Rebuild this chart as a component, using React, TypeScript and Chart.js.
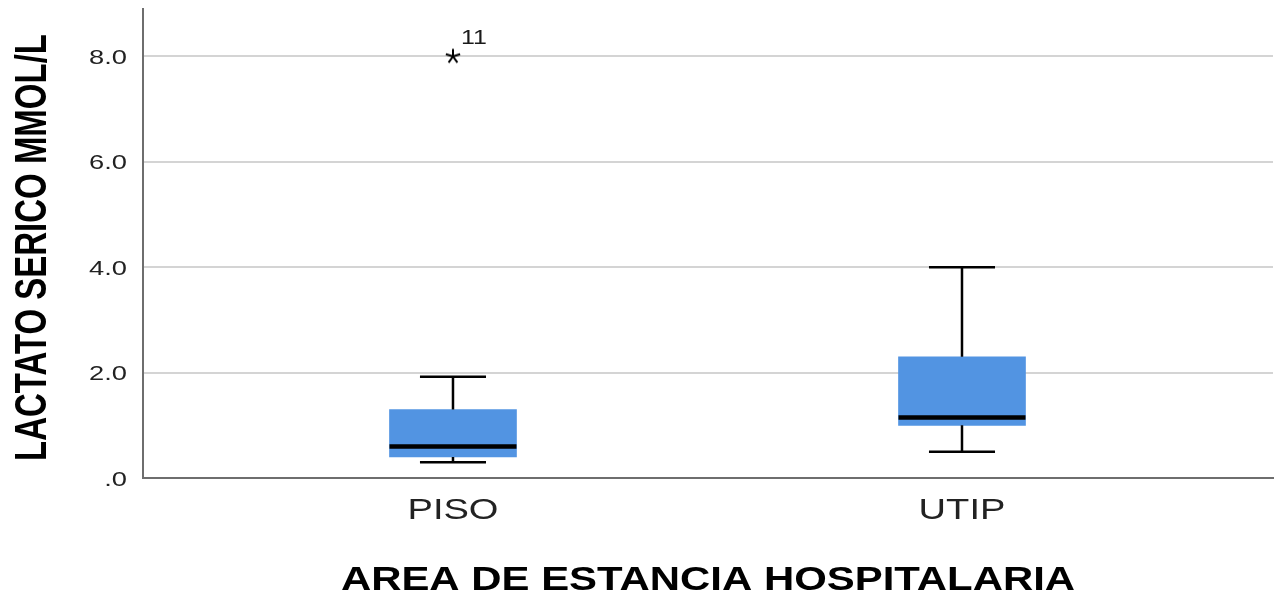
import React, { useEffect, useRef } from "react";
import { Chart, registerables } from "chart.js";

Chart.register(...registerables);

// Box-plot summary per hospital area (lactate, mmol/L)
const categories = ["PISO", "UTIP"];
const whiskerLow = [0.3, 0.5];
const quartile1 = [0.4, 1.0];
const medians = [0.6, 1.15];
const quartile3 = [1.3, 2.3];
const whiskerHigh = [1.92, 4.0];

// Extreme value flagged with its case number
const outlierCategory = [0];
const outlierValue = [8.0];
const outlierCase = ["11"];

// Y axis ticks
const yTickValues = [0, 2, 4, 6, 8];
const yTickLabels = [".0", "2.0", "4.0", "6.0", "8.0"];

const xTitle = "AREA DE ESTANCIA HOSPITALARIA";
const yTitle = "LACTATO SERICO MMOL/L";

const FONT = '"Liberation Sans", Arial, sans-serif';
const BOX_COLOR = "#5294e2";

function drawText(
  ctx: CanvasRenderingContext2D,
  text: string,
  x: number,
  y: number,
  o: { size: number; bold?: boolean; sx?: number; sy?: number; align?: CanvasTextAlign; rotate?: number; color?: string }
) {
  ctx.save();
  ctx.translate(x, y);
  if (o.rotate) ctx.rotate(o.rotate);
  ctx.scale(o.sx ?? 1, o.sy ?? 1);
  ctx.font = `${o.bold ? "bold " : ""}${o.size}px ${FONT}`;
  ctx.textAlign = o.align ?? "left";
  ctx.textBaseline = "alphabetic";
  ctx.fillStyle = o.color ?? "#1a1a1a";
  ctx.fillText(text, 0, 0);
  ctx.restore();
}

// Asterisk marker used for extreme values
function makeAsterisk(): HTMLCanvasElement {
  const c = document.createElement("canvas");
  c.width = 20;
  c.height = 20;
  const g = c.getContext("2d")!;
  g.strokeStyle = "#000";
  g.lineWidth = 2;
  g.lineCap = "butt";
  g.beginPath();
  for (let k = 0; k < 5; k++) {
    const a = -Math.PI / 2 + (k * 2 * Math.PI) / 5;
    g.moveTo(10, 10);
    g.lineTo(10 + Math.cos(a) * 7.5, 10 + Math.sin(a) * 7.5);
  }
  g.stroke();
  return c;
}

const boxDecor = {
  id: "boxDecor",
  afterDatasetsDraw(chart: any) {
    const { ctx, scales } = chart;
    const x = scales.x;
    const y = scales.y;
    const bars = chart.getDatasetMeta(0).data;
    ctx.save();
    ctx.strokeStyle = "#000";
    ctx.lineCap = "butt";
    categories.forEach((_, i) => {
      const cx = x.getPixelForValue(i);
      const w = bars[i].width;
      const cap = w * 0.52;
      // whiskers
      ctx.lineWidth = 2.5;
      ctx.beginPath();
      ctx.moveTo(cx, y.getPixelForValue(quartile3[i]));
      ctx.lineTo(cx, y.getPixelForValue(whiskerHigh[i]));
      ctx.moveTo(cx, y.getPixelForValue(quartile1[i]));
      ctx.lineTo(cx, y.getPixelForValue(whiskerLow[i]));
      ctx.stroke();
      ctx.beginPath();
      ctx.moveTo(cx - cap / 2, y.getPixelForValue(whiskerHigh[i]));
      ctx.lineTo(cx + cap / 2, y.getPixelForValue(whiskerHigh[i]));
      ctx.moveTo(cx - cap / 2, y.getPixelForValue(whiskerLow[i]));
      ctx.lineTo(cx + cap / 2, y.getPixelForValue(whiskerLow[i]));
      ctx.stroke();
      // median
      ctx.lineWidth = 4.5;
      ctx.beginPath();
      ctx.moveTo(cx - w / 2, y.getPixelForValue(medians[i]));
      ctx.lineTo(cx + w / 2, y.getPixelForValue(medians[i]));
      ctx.stroke();
    });
    ctx.restore();

    // case labels next to outliers
    const pts = chart.getDatasetMeta(1).data;
    pts.forEach((p: any, i: number) => {
      drawText(ctx, outlierCase[i], p.x + 8, p.y - 12, { size: 20, sx: 1.25 });
    });
  },
  afterDraw(chart: any) {
    const { ctx, scales, chartArea } = chart;
    const x = scales.x;
    const y = scales.y;
    // y tick labels
    yTickValues.forEach((v, i) => {
      const py = y.getPixelForValue(v);
      drawText(ctx, yTickLabels[i], chartArea.left - 16, py + 7.5, { size: 21, sx: 1.3, align: "right", color: "#222" });
    });
    // x tick labels
    categories.forEach((c, i) => {
      drawText(ctx, c, x.getPixelForValue(i), chartArea.bottom + 41, { size: 30, sx: 1.27, align: "center", color: "#222" });
    });
    // axis titles
    drawText(ctx, xTitle, (chartArea.left + chartArea.right) / 2, chartArea.bottom + 112, {
      size: 33,
      bold: true,
      sx: 1.27,
      align: "center",
      color: "#000",
    });
    drawText(ctx, yTitle, 46, (chartArea.top + chartArea.bottom) / 2 + 4, {
      size: 34,
      bold: true,
      sx: 0.97,
      sy: 1.3,
      align: "center",
      rotate: -Math.PI / 2,
      color: "#000",
    });
  },
};

export default function App() {
  const ref = useRef<HTMLCanvasElement | null>(null);

  useEffect(() => {
    if (!ref.current) return;
    const chart = new Chart(ref.current, {
      type: "bar",
      data: {
        datasets: [
          {
            type: "bar",
            data: categories.map((_, i) => ({ x: i, y: [quartile1[i], quartile3[i]] })) as any,
            backgroundColor: BOX_COLOR,
            borderWidth: 0,
            barThickness: 127,
          },
          {
            type: "scatter",
            data: outlierCategory.map((c, i) => ({ x: c, y: outlierValue[i] })),
            pointStyle: makeAsterisk(),
            radius: 8,
          },
        ] as any,
      },
      options: {
        animation: false,
        responsive: false,
        layout: { padding: { left: 143, top: 9, right: 9, bottom: 116 } },
        plugins: { legend: { display: false }, tooltip: { enabled: false } },
        scales: {
          x: {
            type: "linear",
            offset: false,
            min: -0.609,
            max: 1.611,
            grid: { display: false, drawTicks: false },
            border: { display: true, color: "#6e6e6e", width: 2 },
            ticks: { display: false },
            afterBuildTicks: (s: any) => {
              s.ticks = categories.map((_, i) => ({ value: i }));
            },
            afterFit: (s: any) => {
              s.height = 0;
            },
          },
          y: {
            type: "linear",
            min: 0,
            max: 8.9,
            grid: { color: "#d4d4d4", lineWidth: 2, drawTicks: false },
            border: { display: true, color: "#6e6e6e", width: 2 },
            ticks: { display: false },
            afterBuildTicks: (s: any) => {
              s.ticks = yTickValues.map((v) => ({ value: v }));
            },
            afterFit: (s: any) => {
              s.width = 0;
            },
          },
        },
      } as any,
      plugins: [boxDecor],
    });
    return () => chart.destroy();
  }, []);

  return (
    <canvas
      ref={ref}
      width={1282}
      height={594}
      style={{ position: "fixed", left: 0, top: 0, display: "block", background: "#fff" }}
    />
  );
}
